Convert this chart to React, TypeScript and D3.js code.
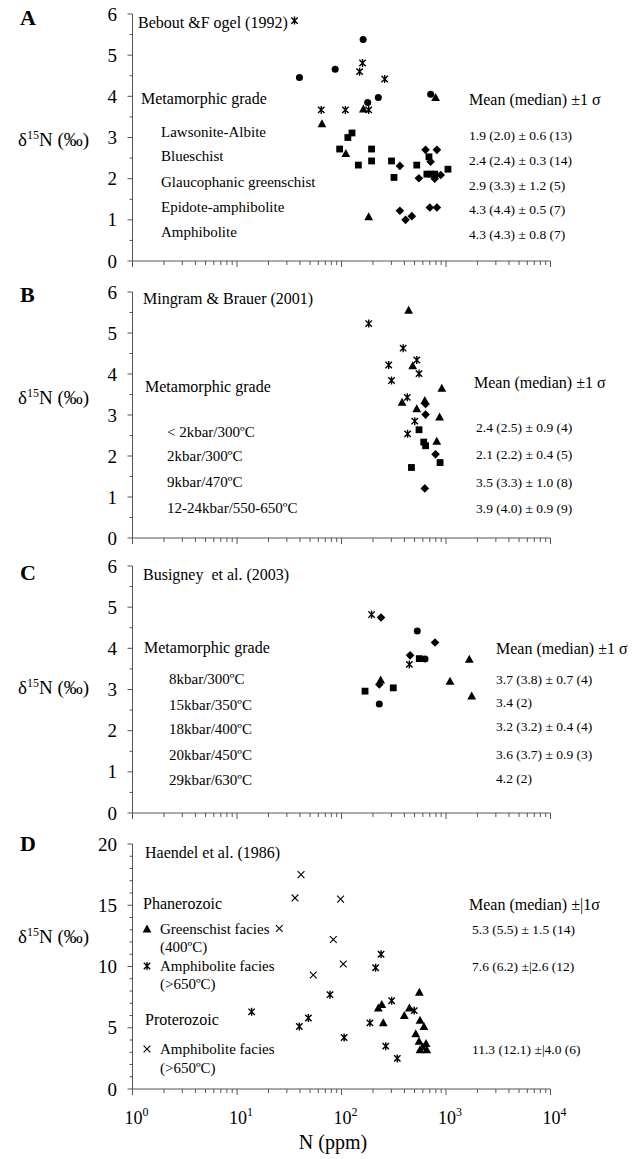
import React from "react";
import * as d3 from "d3";

type Pt = [number, number]; // [N ppm, d15N permil]

// ---- Panel A: Bebout & Fogel (1992)
const aLawsonite: Pt[] = [[637, 2.7], [818, 2.7], [362, 2.31], [550, 2.01], [713, 2.41], [780, 2.0], [890, 2.09], [362, 1.22], [410, 1.0], [471, 1.09], [700, 1.3], [818, 1.3]];
const aBlueschist: Pt[] = [[126, 3.11], [115, 3.0], [96, 2.72], [194, 2.72], [194, 2.43], [145, 2.33], [301, 2.43], [318, 2.03], [525, 2.33], [687, 2.53], [656, 2.11], [720, 2.11], [780, 2.11], [1044, 2.23]];
const aGlaucophanic: Pt[] = [[65, 3.33], [110, 2.61], [182, 1.07], [162, 3.69], [795, 3.97]];
const aEpidote: Pt[] = [[39.6, 4.46], [87, 4.66], [161, 5.38], [178, 3.85], [225, 3.97], [713, 4.05]];
const aAmphibolite: Pt[] = [[35.5, 5.84], [159, 4.81], [149, 4.6], [259, 4.42], [64, 3.67], [109, 3.67], [182, 3.67]];
const aGrades = ["Lawsonite-Albite", "Blueschist", "Glaucophanic greenschist", "Epidote-amphibolite", "Amphibolite"];
const aStats = ["1.9 (2.0) ± 0.6 (13)", "2.4 (2.4) ± 0.3 (14)", "2.9 (3.3) ± 1.2 (5)", "4.3 (4.4) ± 0.5 (7)", "4.3 (4.3) ± 0.8 (7)"];

// ---- Panel B: Mingram & Brauer (2001)
const bLow: Pt[] = [[638, 3.27], [638, 3.01], [794, 2.04], [627, 1.21]];
const b2kbar: Pt[] = [[552, 2.64], [612, 2.34], [638, 2.25], [878, 1.84], [467, 1.72]];
const b9kbar: Pt[] = [[439, 5.55], [912, 3.65], [627, 3.35], [525, 3.15], [868, 2.95], [816, 2.36], [480, 4.2], [380, 3.31]];
const b12kbar: Pt[] = [[182, 5.23], [389, 4.63], [525, 4.34], [283, 4.22], [552, 4.01], [301, 3.84], [426, 3.43], [502, 2.85], [429, 2.54]];
const bGrades = ["< 2kbar/300ºC", "2kbar/300ºC", "9kbar/470ºC", "12-24kbar/550-650ºC"];
const bStats = ["2.4 (2.5) ± 0.9 (4)", "2.1 (2.2) ± 0.4 (5)", "3.5 (3.3) ± 1.0 (8)", "3.9 (4.0) ± 0.9 (9)"];

// ---- Panel C: Busigney et al. (2003)
const c8kbar: Pt[] = [[239, 4.75], [785, 4.14], [453, 3.83], [230, 3.12]];
const c15kbar: Pt[] = [[555, 3.75], [168, 2.96], [313, 3.04]];
const c18kbar: Pt[] = [[1671, 3.73], [237, 3.23], [1092, 3.2], [1762, 2.84]];
const c20kbar: Pt[] = [[531, 4.42], [630, 3.74], [230, 2.65]];
const c29kbar: Pt[] = [[194, 4.82], [446, 3.61]];
const cGrades = ["8kbar/300ºC", "15kbar/350ºC", "18kbar/400ºC", "20kbar/450ºC", "29kbar/630ºC"];
const cStats = ["3.7 (3.8) ± 0.7 (4)", "3.4 (2)", "3.2 (3.2) ± 0.4 (4)", "3.6 (3.7) ± 0.9 (3)", "4.2 (2)"];

// ---- Panel D: Haendel et al. (1986)
const dGreenschist: Pt[] = [[556, 7.9], [243, 6.9], [225, 6.6], [251, 5.4], [446, 6.6], [399, 6.0], [564, 5.6], [615, 5.1], [513, 4.5], [552, 3.9], [644, 3.7], [564, 3.2], [654, 3.2], [598, 3.45]];
const dAmphPhan: Pt[] = [[239, 11.0], [212, 9.9], [77.6, 7.7], [13.8, 6.3], [48.2, 5.8], [39.5, 5.1], [187, 5.4], [302, 7.2], [106, 4.2], [265, 3.5], [342, 2.5], [497, 6.4]];
const dAmphProt: Pt[] = [[41, 17.5], [35.9, 15.6], [98, 15.5], [25.4, 13.1], [83.5, 12.2], [104, 10.2], [53.7, 9.3]];
const dStats = ["5.3 (5.5) ± 1.5 (14)", "7.6 (6.2) ±|2.6 (12)", "11.3 (12.1) ±|4.0 (6)"];

const xTickPowers = [0, 1, 2, 3, 4];

const FONT = "'Liberation Serif', 'Times New Roman', serif";
const X_RANGE: [number, number] = [132.5, 550.5];

const x = d3.scaleLog().domain([1, 1e4]).range(X_RANGE);

const Marker = ({ shape, cx, cy }: { shape: string; cx: number; cy: number }) => {
  switch (shape) {
    case "circle":
      return <circle cx={cx} cy={cy} r={3.5} fill="#000" />;
    case "square":
      return <rect x={cx - 3.4} y={cy - 3.4} width={6.8} height={6.8} fill="#000" />;
    case "diamond":
      return <path d={`M${cx},${cy - 4.3}L${cx + 4.3},${cy}L${cx},${cy + 4.3}L${cx - 4.3},${cy}Z`} fill="#000" />;
    case "triangle":
      return <path d={`M${cx},${cy - 4.6}L${cx + 4.4},${cy + 3.4}L${cx - 4.4},${cy + 3.4}Z`} fill="#000" />;
    case "star":
      return (
        <path
          d={`M${cx - 3.2},${cy - 3.2}L${cx + 3.2},${cy + 3.2}M${cx + 3.2},${cy - 3.2}L${cx - 3.2},${cy + 3.2}M${cx},${cy - 4}L${cx},${cy + 4}`}
          stroke="#000" strokeWidth={1.4} fill="none"
        />
      );
    default:
      return (
        <path
          d={`M${cx - 3.4},${cy - 3.4}L${cx + 3.4},${cy + 3.4}M${cx + 3.4},${cy - 3.4}L${cx - 3.4},${cy + 3.4}`}
          stroke="#000" strokeWidth={1.1} fill="none"
        />
      );
  }
};

type Series = { shape: string; pts: Pt[] };
type Label = { text: string; x: number; y: number; size: number };

type Panel = {
  letter: string;
  letterY: number;
  yMax: number;
  yRange: [number, number];
  yMajor: number;
  yMinor: number;
  yLabelY: number;
  series: Series[];
  labels: Label[];
};

const rows = (texts: string[], xPos: number, ys: number[], size: number): Label[] =>
  texts.map((t, i) => ({ text: t, x: xPos, y: ys[i], size }));

const panels: Panel[] = [
  {
    letter: "A", letterY: 25, yMax: 6, yRange: [261, 14], yMajor: 1, yMinor: 0.5, yLabelY: 146,
    series: [
      { shape: "diamond", pts: aLawsonite },
      { shape: "square", pts: aBlueschist },
      { shape: "triangle", pts: aGlaucophanic },
      { shape: "circle", pts: aEpidote },
      { shape: "star", pts: aAmphibolite },
    ],
    labels: [
      { text: "Bebout &F ogel (1992)", x: 138, y: 28, size: 16 },
      { text: "Metamorphic grade", x: 141, y: 104, size: 16 },
      ...rows(aGrades, 161, [137, 161, 187, 212, 237], 15),
      { text: "Mean (median) ±1 σ", x: 469, y: 105, size: 16 },
      ...rows(aStats, 469, [139.5, 164.5, 189.5, 214, 238.5], 13.5),
    ],
  },
  {
    letter: "B", letterY: 302, yMax: 6, yRange: [538, 292], yMajor: 1, yMinor: 0.5, yLabelY: 404,
    series: [
      { shape: "diamond", pts: bLow },
      { shape: "square", pts: b2kbar },
      { shape: "triangle", pts: b9kbar },
      { shape: "star", pts: b12kbar },
    ],
    labels: [
      { text: "Mingram & Brauer (2001)", x: 143, y: 304, size: 16 },
      { text: "Metamorphic grade", x: 145, y: 392, size: 16 },
      ...rows(bGrades, 167, [437, 461, 487, 513], 15),
      { text: "Mean (median) ±1 σ", x: 474, y: 388, size: 16 },
      ...rows(bStats, 476, [431.5, 458.5, 486.5, 512.5], 13.5),
    ],
  },
  {
    letter: "C", letterY: 580, yMax: 6, yRange: [813, 566], yMajor: 1, yMinor: 0.5, yLabelY: 694,
    series: [
      { shape: "diamond", pts: c8kbar },
      { shape: "square", pts: c15kbar },
      { shape: "triangle", pts: c18kbar },
      { shape: "circle", pts: c20kbar },
      { shape: "star", pts: c29kbar },
    ],
    labels: [
      { text: "Busigney  et al. (2003)", x: 143, y: 580, size: 16 },
      { text: "Metamorphic grade", x: 144, y: 653, size: 16 },
      ...rows(cGrades, 169, [684, 710, 734, 760, 785], 15),
      { text: "Mean (median) ±1 σ", x: 496, y: 654, size: 16 },
      ...rows(cStats, 496, [684, 707, 731, 758.5, 782.5], 13.5),
    ],
  },
  {
    letter: "D", letterY: 851, yMax: 20, yRange: [1089, 844], yMajor: 5, yMinor: 1, yLabelY: 943,
    series: [
      { shape: "triangle", pts: dGreenschist },
      { shape: "star", pts: dAmphPhan },
      { shape: "cross", pts: dAmphProt },
    ],
    labels: [
      { text: "Haendel et al. (1986)", x: 145, y: 858, size: 16 },
      { text: "Phanerozoic", x: 143, y: 909, size: 16 },
      { text: "Greenschist facies", x: 160, y: 934, size: 15 },
      { text: "(400ºC)", x: 160, y: 952, size: 15 },
      { text: "Amphibolite facies", x: 160, y: 971, size: 15 },
      { text: "(>650ºC)", x: 160, y: 989, size: 15 },
      { text: "Proterozoic", x: 145, y: 1025, size: 16 },
      { text: "Amphibolite facies", x: 160, y: 1054, size: 15 },
      { text: "(>650ºC)", x: 160, y: 1073, size: 15 },
      { text: "Mean (median) ±|1σ", x: 469, y: 910, size: 16 },
      ...rows(dStats, 472, [934, 971, 1054], 13.5),
    ],
  },
];

const dLegendMarkers = [
  { shape: "triangle", y: 929 },
  { shape: "star", y: 966 },
  { shape: "cross", y: 1049 },
];

const AXIS = "#555";

const PanelView = ({ p, showXLabels }: { p: Panel; showXLabels: boolean }) => {
  const y = d3.scaleLinear().domain([0, p.yMax]).range(p.yRange);
  const x0 = X_RANGE[0];
  const yBottom = p.yRange[0];
  const majors = d3.range(0, p.yMax + 0.001, p.yMajor);
  const minors = d3.range(0, p.yMax + 0.001, p.yMinor).filter((v) => Math.abs(v / p.yMajor - Math.round(v / p.yMajor)) > 1e-6);
  const xTicks = x.ticks();
  return (
    <g>
      <text x={20} y={p.letterY} fontSize={22} fontWeight="bold" fontFamily={FONT}>{p.letter}</text>
      <text x={18} y={p.yLabelY} fontSize={19} fontFamily={FONT}>
        δ<tspan fontSize={12} dy={-7}>15</tspan><tspan dy={7}>N (‰)</tspan>
      </text>
      {/* y axis */}
      <line x1={x0} x2={x0} y1={p.yRange[1]} y2={yBottom} stroke={AXIS} />
      {majors.map((v) => (
        <g key={"M" + v}>
          <line x1={x0 - 5} x2={x0} y1={y(v)} y2={y(v)} stroke={AXIS} />
          <text x={117} y={y(v) + 6.5} textAnchor="end" fontSize={19} fontFamily={FONT}>{v}</text>
        </g>
      ))}
      {minors.map((v) => (
        <line key={"m" + v} x1={x0 - 3} x2={x0} y1={y(v)} y2={y(v)} stroke={AXIS} />
      ))}
      {/* x axis */}
      <line x1={X_RANGE[0]} x2={X_RANGE[1]} y1={yBottom} y2={yBottom} stroke={AXIS} />
      {xTicks.map((t) => {
        const major = Math.abs(Math.log10(t) - Math.round(Math.log10(t))) < 1e-9;
        return <line key={t} x1={x(t)} x2={x(t)} y1={yBottom} y2={yBottom + (major ? 6 : 4)} stroke={AXIS} />;
      })}
      {showXLabels &&
        xTickPowers.map((k) => (
          <text key={k} x={x(Math.pow(10, k)) - 8} y={yBottom + 35} fontSize={18} fontFamily={FONT}>
            10<tspan fontSize={12} dy={-8}>{k}</tspan>
          </text>
        ))}
      {p.labels.map((l, i) => (
        <text key={i} x={l.x} y={l.y} fontSize={l.size} fontFamily={FONT} style={{ whiteSpace: "pre" }}>{l.text}</text>
      ))}
      {p.series.map((s, si) =>
        s.pts.map((d, i) => <Marker key={si + "-" + i} shape={s.shape} cx={x(d[0])} cy={y(d[1])} />)
      )}
    </g>
  );
};

export default function App() {
  return (
    <svg width={633} height={1159} style={{ position: "absolute", left: 0, top: 0, background: "#fff" }}>
      <rect width={633} height={1159} fill="#fff" />
      {panels.map((p, i) => (
        <PanelView key={p.letter} p={p} showXLabels={i === panels.length - 1} />
      ))}
      {dLegendMarkers.map((m) => (
        <Marker key={m.y} shape={m.shape} cx={147} cy={m.y} />
      ))}
      <text x={333} y={1149} textAnchor="middle" fontSize={20} fontFamily={FONT}>N (ppm)</text>
    </svg>
  );
}
